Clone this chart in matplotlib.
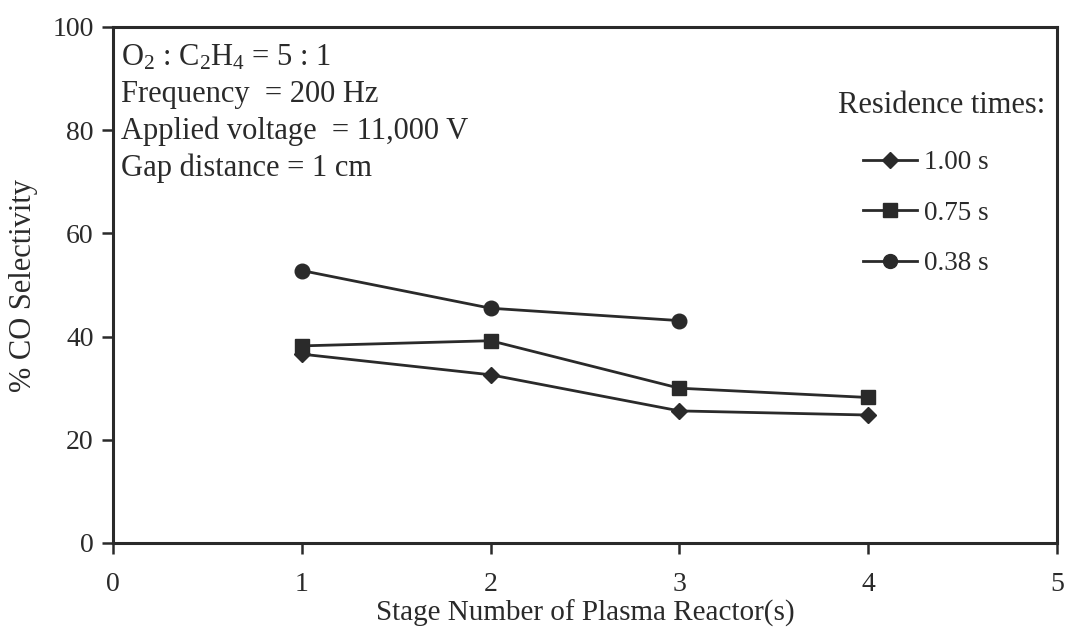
import matplotlib
matplotlib.use('Agg')
import matplotlib.pyplot as plt
from matplotlib.lines import Line2D

plt.rcParams['font.family'] = ['Liberation Serif', 'DejaVu Serif']
plt.rcParams['mathtext.fontset'] = 'custom'
plt.rcParams['mathtext.rm'] = 'Liberation Serif'
plt.rcParams['mathtext.it'] = 'Liberation Serif:italic'

# Data
stages_100 = [1, 2, 3, 4]
sel_100 = [36.6, 32.6, 25.6, 24.8]
stages_075 = [1, 2, 3, 4]
sel_075 = [38.2, 39.2, 30.0, 28.2]
stages_038 = [1, 2, 3]
sel_038 = [52.8, 45.5, 43.1]
series_labels = ['1.00 s', '0.75 s', '0.38 s']
x_ticks = [0, 1, 2, 3, 4, 5]
y_ticks = [0, 20, 40, 60, 80, 100]
info_lines = [r'O$_2$ : C$_2$H$_4$ = 5 : 1',
              'Frequency  = 200 Hz',
              'Applied voltage  = 11,000 V',
              'Gap distance = 1 cm']

C = '#2a2a2a'
W, H = 1066, 633
fig = plt.figure(figsize=(W / 100, H / 100), dpi=100)
ax = fig.add_axes([113 / W, (H - 543) / H, (1057 - 113) / W, (543 - 27) / H])

lw = 2.0
ax.plot(stages_100, sel_100, color=C, lw=lw, marker='D', ms=8.5, mfc=C, mec=C)
ax.plot(stages_075, sel_075, color=C, lw=lw, marker='s', ms=10.5, mfc=C, mec=C)
ax.plot(stages_038, sel_038, color=C, lw=lw, marker='o', ms=10.5, mfc=C, mec=C)

ax.set_xlim(0, 5)
ax.set_ylim(0, 100)
ax.set_xticks(x_ticks)
ax.set_yticks(y_ticks)
ax.tick_params(axis='both', direction='out', length=8, width=1.8, colors=C,
               labelsize=20, labelcolor=C)
ax.tick_params(axis='x', pad=13)
ax.tick_params(axis='y', pad=6)
for s in ax.spines.values():
    s.set_color(C)
    s.set_linewidth(2.2)

ax.set_xlabel('Stage Number of Plasma Reactor(s)', fontsize=21, color=C, labelpad=2)
ax.set_ylabel('% CO Selectivity', fontsize=22, color=C, labelpad=10)

# Info text
baselines = [65, 102, 139, 176]
for txt, yb in zip(info_lines, baselines):
    fig.text(121 / W, 1 - yb / H, txt, fontsize=22, color=C, ha='left', va='baseline')

# Legend
fig.text(1045 / W, 1 - 113 / H, 'Residence times:', fontsize=22, color=C,
         ha='right', va='baseline')
handles = [Line2D([], [], color=C, lw=lw, marker='D', ms=8, mfc=C, mec=C),
           Line2D([], [], color=C, lw=lw, marker='s', ms=10, mfc=C, mec=C),
           Line2D([], [], color=C, lw=lw, marker='o', ms=10, mfc=C, mec=C)]
leg = ax.legend(handles, series_labels, loc='upper left',
                bbox_to_anchor=(863 / W, 1 - 150 / H), bbox_transform=fig.transFigure,
                frameon=False, fontsize=19.5, handlelength=2.0, handletextpad=0.25,
                labelspacing=0.95, borderpad=0, borderaxespad=0)
for t in leg.get_texts():
    t.set_color(C)

fig.savefig('out.png', dpi=100)
